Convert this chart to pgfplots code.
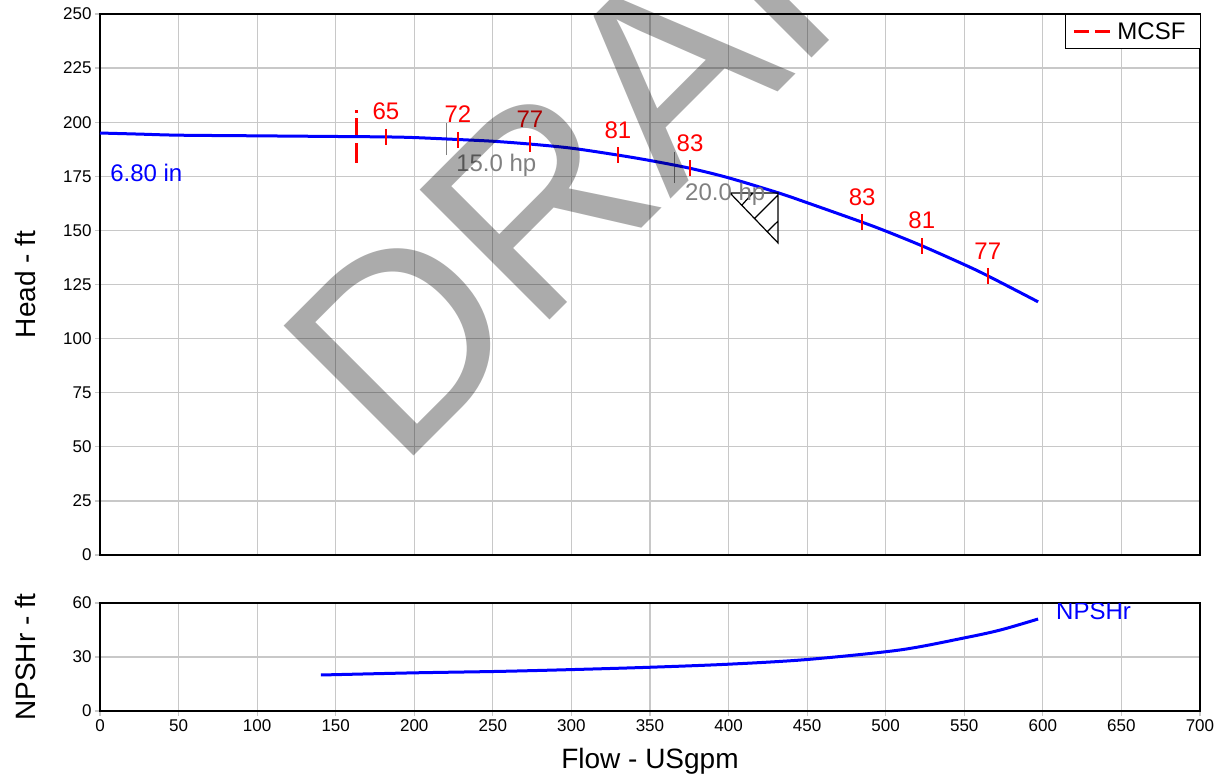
\documentclass[border=0pt]{standalone}
\usepackage{pgfplots}
\pgfplotsset{compat=1.18}
\usepackage{pgfplotstable}
\usepackage{fontspec}
\setmainfont{Liberation Sans}
\definecolor{gridgray}{RGB}{200,200,200}
\definecolor{hpgray}{RGB}{128,128,128}
\newcommand\tickfont{\fontsize{17}{17}\selectfont}
\newcommand\annfont{\fontsize{24}{24}\selectfont}
\newcommand\labfont{\fontsize{28}{28}\selectfont}

\pgfplotstableread{
flow head
0 195.0
25 194.5
50 194.0
100 193.7
150 193.4
182 193.2
200 192.9
227.8 192.0
250 191.2
273.6 189.9
300 188.0
329.6 184.8
350 182.3
375.5 178.7
400 174.3
431.5 167.4
450 162.8
485 153.8
500 149.7
523 142.9
550 134.2
565 129.0
597 117.0
}\headtbl

\pgfplotstableread{
flow head label
182 193.2 65
227.8 192.0 72
273.6 189.9 77
329.6 184.8 81
375.5 178.7 83
485 153.8 83
523 142.9 81
565 129.0 77
}\efftbl

\pgfplotstableread{
flow npsh
140.6 20.0
200 21.2
254 22.0
300 23.0
350 24.3
400 26.0
450 28.6
509 33.9
550 40.6
573 45.0
597 51.1
}\npshtbl

\pgfplotsset{
  common/.style={
    scale only axis, width=1100pt,
    xmin=0, xmax=700, xtick={0,50,...,700},
    grid=major,
    major grid style={color=gridgray, line width=1.2pt},
    axis line style={black, line width=1.3pt},
    tick style={color=gridgray, line width=1.2pt},
    tick align=outside, major tick length=5pt,
    xtick pos=bottom, ytick pos=left,
    ticklabel style={font=\tickfont},
    /pgf/number format/assume math mode=true,
    label style={font=\labfont},
    ylabel style={at={(axis description cs:-0.068,0.5)}, anchor=center},
  }
}

\begin{document}
\begin{tikzpicture}
\path[use as bounding box] (-100pt,-219pt) rectangle (1119pt,555pt);
\begin{axis}[common, name=top, at={(0pt,0pt)}, anchor=south west,
  height=541pt, ymin=0, ymax=250, ytick={0,25,...,250},
  xticklabels={}, xtick style={draw=none},
  ylabel={Head - ft},
  legend style={at={(rel axis cs:1,1)}, anchor=north east, xshift=0.5pt, yshift=-0.5pt,
    draw=black, line width=1.2pt,
    outer sep=0pt, font=\annfont, inner xsep=7pt, inner ysep=6pt, cells={anchor=west}},
  legend image code/.code={\draw[red, line width=3pt, dash pattern=on 15pt off 6pt] (2pt,0pt) -- (42pt,0pt);},
]
\addplot[red, line width=3pt, dash pattern=on 20pt off 5pt] coordinates {(163.5,181.2) (163.5,205.7)};
\addlegendentry{MCSF\kern 6pt}
\addplot[hpgray, line width=1pt, forget plot, unbounded coords=jump] coordinates {(220.2,184.8) (220.2,199.6) (nan,nan) (365.9,171.9) (365.9,186.3)};
\addplot[blue, line width=3pt, smooth, forget plot] table[x=flow,y=head]{\headtbl};
\addplot[red, only marks, mark=|, mark size=8pt, line width=1.5pt, forget plot,
  nodes near coords, point meta=explicit symbolic,
  every node near coord/.append style={text=red, font=\annfont, inner sep=0pt, yshift=16pt}]
  table[x=flow,y=head,meta=label]{\efftbl};
\addplot[black, line width=1.2pt, forget plot, unbounded coords=jump] coordinates {
  (400.9,167.3) (431.5,167.3) (431.5,144.2) (400.9,167.3) (nan,nan)
  (408.5,161.7) (415.5,167.3) (nan,nan)
  (416.2,155.3) (431.5,166.4) (nan,nan)
  (424.5,149.3) (431.5,154.3)};
\node[anchor=base west, text=blue, font=\annfont, inner sep=0pt] at (axis cs:6.4,172.4) {6.80 in};
\node[anchor=base west, text=hpgray, font=\annfont, inner sep=0pt] at (axis cs:226.6,177.0) {15.0 hp};
\node[anchor=base west, text=hpgray, font=\annfont, inner sep=0pt] at (axis cs:372.3,164.0) {20.0 hp};
\end{axis}

\begin{axis}[common, at={(0pt,-48pt)}, anchor=north west,
  height=108pt, ymin=0, ymax=60, ytick={0,30,60},
  xlabel={Flow - USgpm}, ylabel={NPSHr - ft},
  xlabel style={at={(axis description cs:0.5,-0.463)}, anchor=center},
]
\addplot[blue, line width=3pt, smooth] table[x=flow,y=npsh]{\npshtbl};
\node[anchor=base west, text=blue, font=\annfont, inner sep=0pt] at (axis cs:608.4,51.1) {NPSHr};
\end{axis}

\node[rotate=45, anchor=base west, inner sep=0pt, text=black, text opacity=0.33,
  font=\fontsize{267}{267}\selectfont] at (298.2pt,83.2pt) {DRAFT};
\end{tikzpicture}
\end{document}
